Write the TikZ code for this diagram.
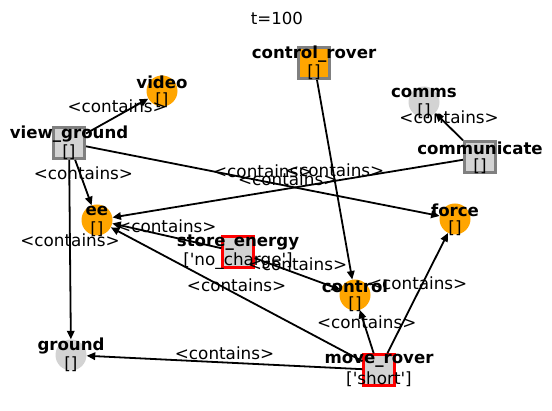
\documentclass[tikz,border=0pt]{standalone}
\usepackage{fontspec}
\setmainfont{DejaVu Sans}
\usetikzlibrary{arrows.meta}

\definecolor{nxorange}{HTML}{FFA500}
\definecolor{nxgray}{HTML}{D3D3D3}
\definecolor{nxborder}{HTML}{808080}

\begin{document}
\begin{tikzpicture}[x=1pt,y=-1pt,>={Triangle[length=8.5pt,width=7.5pt]},
    goal/.style={circle, fill=nxorange, minimum size=31pt, inner sep=0pt},
    fact/.style={circle, fill=nxgray, minimum size=31pt, inner sep=0pt},
    action/.style={rectangle, fill=nxgray, draw=nxborder, line width=3pt, minimum size=31pt, inner sep=0pt},
    active/.style={action, fill=nxorange},
    failed/.style={action, draw=red, line width=2.2pt},
    nm/.style={font=\fontsize{16.6}{19}\selectfont\bfseries, inner sep=0pt, yshift=9pt},
    att/.style={font=\fontsize{16.8}{19}\selectfont, inner sep=0pt, yshift=-9pt},
    lbl/.style={font=\fontsize{16.8}{19}\selectfont, inner sep=0pt, yshift=9.5pt}]
   \useasboundingbox (0,0) rectangle (552,411);
   \node[font=\fontsize{16.6}{19}\selectfont] (title) at (277,18) {t=100};

   \node[goal]   (video)    at (162,91)  {};
   \node[action] (vground)  at (69,143)  {};
   \node[active] (crover)   at (314,63)  {};
   \node[fact]   (comms)    at (424,102) {};
   \node[action] (commun)   at (480,157) {};
   \node[goal]   (force)    at (455,219) {};
   \node[goal]   (ee)       at (97,220)  {};
   \node[failed] (senergy)  at (238,252) {};
   \node[goal]   (control)  at (355,295) {};
   \node[fact]   (ground)   at (71,355)  {};
   \node[failed] (mrover)   at (379,370) {};

   \path[->, line width=1.8pt]
    (vground) edge node[lbl] {<contains>} (video)
              edge node[lbl] {<contains>} (ee)
              edge node[lbl] {<contains>} (ground)
              edge node[lbl] {<contains>} (force)
    (commun)  edge node[lbl] {<contains>} (comms)
              edge node[lbl] {<contains>} (ee)
    (crover)  edge node[lbl] {<contains>} (control)
    (senergy) edge node[lbl] {<contains>} (ee)
              edge node[lbl] {<contains>} (control)
    (mrover)  edge node[lbl] {<contains>} (ee)
              edge node[lbl] {<contains>} (ground)
              edge node[lbl] {<contains>} (control)
              edge node[lbl] {<contains>} (force);

   \node[nm]  at (video.center)   {video};
   \node[att] at (video.center)   {[]};
   \node[nm]  at (vground.center) {view\_ground};
   \node[att] at (vground.center) {[]};
   \node[nm]  at (crover.center)  {control\_rover};
   \node[att] at (crover.center)  {[]};
   \node[nm]  at (comms.center)   {comms};
   \node[att] at (comms.center)   {[]};
   \node[nm]  at (commun.center)  {communicate};
   \node[att] at (commun.center)  {[]};
   \node[nm]  at (force.center)   {force};
   \node[att] at (force.center)   {[]};
   \node[nm]  at (ee.center)      {ee};
   \node[att] at (ee.center)      {[]};
   \node[nm]  at (senergy.center) {store\_energy};
   \node[att] at (senergy.center) {[\textquotesingle no\_charge\textquotesingle]};
   \node[nm]  at (control.center) {control};
   \node[att] at (control.center) {[]};
   \node[nm]  at (ground.center)  {ground};
   \node[att] at (ground.center)  {[]};
   \node[nm]  at (mrover.center)  {move\_rover};
   \node[att] at (mrover.center)  {[\textquotesingle short\textquotesingle]};
\end{tikzpicture}
\end{document}
